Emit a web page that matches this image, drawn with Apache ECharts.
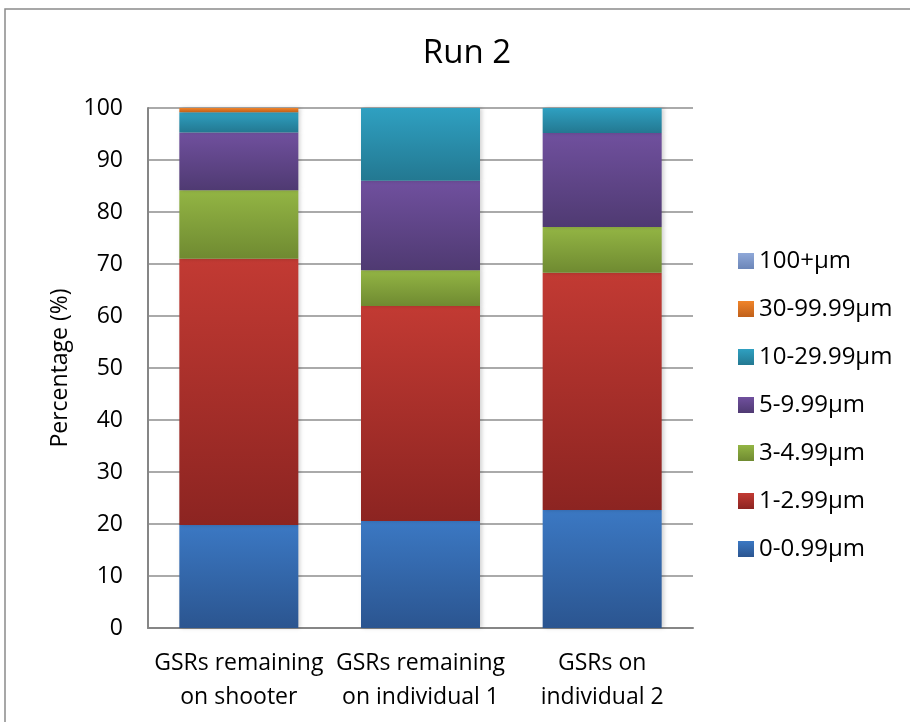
<!DOCTYPE html>
<html>
<head>
<meta charset="utf-8">
<script src="https://cdn.jsdelivr.net/npm/echarts@6/dist/echarts.min.js"></script>
<style>
html,body{margin:0;padding:0;background:#fff;}
#chart{width:910px;height:722px;}
</style>
</head>
<body>
<div id="chart"></div>
<script>
var categories = ['GSRs remaining\non shooter', 'GSRs remaining\non individual 1', 'GSRs on\nindividual 2'];
var seriesNames = ['0-0.99µm', '1-2.99µm', '3-4.99µm', '5-9.99µm', '10-29.99µm', '30-99.99µm', '100+µm'];
var s0 = [19.8, 20.6, 22.7];
var s1 = [51.2, 41.3, 45.6];
var s2 = [13.2, 6.9, 8.8];
var s3 = [11.1, 17.2, 18.1];
var s4 = [3.9, 14.0, 4.8];
var s5 = [0.8, 0, 0];
var s6 = [0, 0, 0];
var yTicks = [0, 100, 10];

// top / bottom gradient colours per series
var colors = [
    ['#3b78c3', '#2b5590'],
    ['#c23a33', '#8c2421'],
    ['#93b544', '#6f8a31'],
    ['#70509e', '#4f3a72'],
    ['#2fa0c1', '#237891'],
    ['#f0842a', '#c0601a'],
    ['#8fa8d8', '#6c86b8']
];

var font = '"Open Sans", sans-serif';
var chart = echarts.init(document.getElementById('chart'));
var allData = [s0, s1, s2, s3, s4, s5, s6];

var series = allData.map(function (d, i) {
    return {
        name: seriesNames[i],
        type: 'bar',
        stack: 'total',
        data: d,
        barWidth: 119,
        itemStyle: {
            color: new echarts.graphic.LinearGradient(0, 0, 0, 1, [
                {offset: 0, color: colors[i][0]},
                {offset: 1, color: colors[i][1]}
            ]),
            shadowColor: 'rgba(0,0,0,0.18)',
            shadowBlur: 4,
            shadowOffsetX: 2
        }
    };
});

chart.setOption({
    animation: false,
    title: {
        text: 'Run 2',
        left: 462,
        top: 32,
        textAlign: 'center',
        textStyle: {fontFamily: font, fontSize: 33, fontWeight: 'normal', color: '#000'}
    },
    graphic: [{
        type: 'rect',
        shape: {x: 5, y: 9, width: 930, height: 740},
        style: {fill: null, stroke: '#8a8a8a', lineWidth: 1.5},
        silent: true
    }],
    legend: {
        orient: 'vertical',
        left: 733,
        top: 244,
        itemWidth: 16,
        itemHeight: 16,
        itemGap: 24,
        icon: 'rect',
        data: seriesNames.slice().reverse(),
        textStyle: {fontFamily: font, fontSize: 24, color: '#000'}
    },
    grid: {left: 148, right: 217, top: 108, bottom: 94},
    xAxis: {
        type: 'category',
        data: categories,
        axisLine: {lineStyle: {color: '#868686', width: 2}},
        axisTick: {show: false},
        axisLabel: {interval: 0, hideOverlap: false, fontFamily: font, fontSize: 23, color: '#000', lineHeight: 34, margin: 18}
    },
    yAxis: {
        type: 'value',
        min: yTicks[0],
        max: yTicks[1],
        interval: yTicks[2],
        name: 'Percentage (%)',
        nameLocation: 'middle',
        nameGap: 76,
        nameTextStyle: {fontFamily: font, fontSize: 23, color: '#000'},
        axisLine: {show: true, lineStyle: {color: '#868686', width: 2}},
        axisTick: {show: false},
        axisLabel: {fontFamily: font, fontSize: 23, color: '#000', margin: 25},
        splitLine: {lineStyle: {color: '#8e8e8e', width: 1.5}}
    },
    series: series
});
</script>
</body>
</html>
